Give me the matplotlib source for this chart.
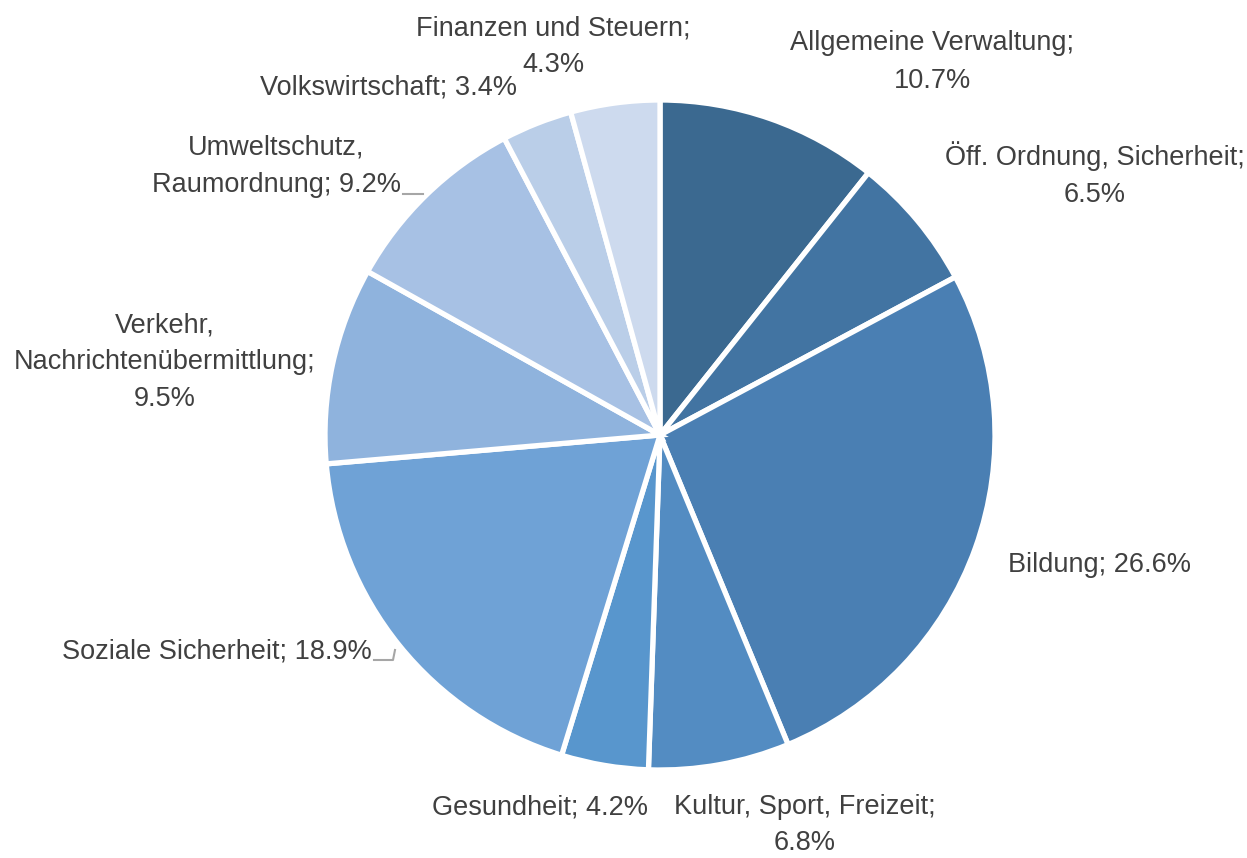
import matplotlib
matplotlib.use("Agg")
import matplotlib.pyplot as plt

categories = ["Allgemeine Verwaltung", "Öff. Ordnung, Sicherheit", "Bildung",
              "Kultur, Sport, Freizeit", "Gesundheit", "Soziale Sicherheit",
              "Verkehr, Nachrichtenübermittlung", "Umweltschutz, Raumordnung",
              "Volkswirtschaft", "Finanzen und Steuern"]
values = [10.7, 6.5, 26.6, 6.8, 4.2, 18.9, 9.5, 9.2, 3.4, 4.3]
colors = ["#3B6990", "#4274A2", "#4A7FB3", "#538CC2", "#5896CD",
          "#6FA2D6", "#8FB3DD", "#A7C1E4", "#BACEE8", "#CDDAEE"]

# label texts (line breaks as in the reference)
label_fmt = ["Allgemeine Verwaltung;\n{}%", "Öff. Ordnung, Sicherheit;\n{}%",
             "Bildung; {}%", "Kultur, Sport, Freizeit;\n{}%", "Gesundheit; {}%",
             "Soziale Sicherheit; {}%", "Verkehr,\nNachrichtenübermittlung;\n{}%",
             "Umweltschutz,\nRaumordnung; {}%", "Volkswirtschaft; {}%",
             "Finanzen und Steuern;\n{}%"]
# label positions in pixel coordinates (x, y from top), alignment
label_pos = [(932, 62, "center"), (1095, 175, "center"), (1100, 565, "center"),
             (805, 825, "center"), (540, 808, "center"), (372, 652, "right"),
             (165, 362, "center"), (401, 166, "right"), (388, 87, "center"),
             (553, 47, "center")]

W, H = 1247, 858
fig = plt.figure(figsize=(W / 100, H / 100), dpi=100)
ax = fig.add_axes([0, 0, 1, 1])
ax.set_xlim(0, W)
ax.set_ylim(0, H)
ax.set_aspect("equal")
ax.axis("off")

cx, cy, r = 660, H - 435, 335
ax.pie(values, colors=colors, startangle=90, counterclock=False,
       center=(cx, cy), radius=r, frame=True,
       wedgeprops=dict(edgecolor="white", linewidth=3.8))
ax.set_xlim(0, W)
ax.set_ylim(0, H)
ax.axis("off")

font = ["Liberation Sans Narrow", "Liberation Sans", "DejaVu Sans"]
for fmt, v, (x, y, ha) in zip(label_fmt, values, label_pos):
    ax.text(x, H - y, fmt.format(v), ha=ha, va="center", fontsize=19.5,
            color="#404040", family=font, linespacing=1.55, multialignment="center")

# leader lines
ax.plot([374, 393, 395], [H - 660, H - 660, H - 650], color="#A6A6A6", lw=1.5)
ax.plot([403, 423], [H - 194, H - 194], color="#A6A6A6", lw=1.5)

fig.savefig("out.png", dpi=100)
